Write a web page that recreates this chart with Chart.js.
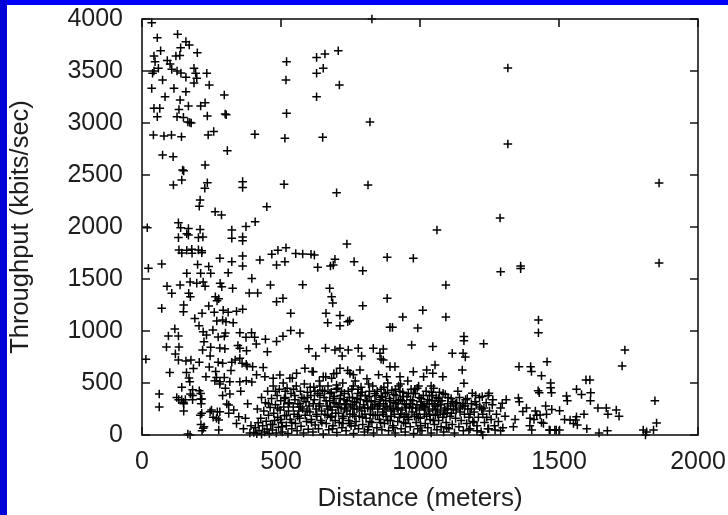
<!DOCTYPE html>
<html>
<head>
<meta charset="utf-8">
<script src="https://cdn.jsdelivr.net/npm/chart.js@4/dist/chart.umd.min.js"></script>
<style>
  html, body { margin: 0; padding: 0; background: #ffffff; }
  #wrap { position: relative; width: 728px; height: 515px; overflow: hidden; background: #ffffff; }
  #c { position: absolute; left: 0; top: 0; }
  #bandTop { position: absolute; left: 0; top: 0; width: 728px; height: 5px; background: #0000ff; }
  #bandLeft { position: absolute; left: 0; top: 0; width: 7px; height: 515px; background: #0000d8; }
</style>
</head>
<body>
<div id="wrap">
  <canvas id="c" width="728" height="515"></canvas>
  <div id="bandTop"></div>
  <div id="bandLeft"></div>
</div>
<script>
// ---- Axis setup ----
const xTicks = [0, 500, 1000, 1500, 2000];
const yTicks = [0, 500, 1000, 1500, 2000, 2500, 3000, 3500, 4000];
const xTitle = "Distance (meters)";
const yTitle = "Throughput (kbits/sec)";

// ---- Data: [distance (m), throughput (kbits/sec)] ----
const nearHigh = [
  [35,3965],[55,3820],[128,3853],[158,3782],[170,3750],[67,3695],[139,3724],[199,3676],[43,3644],[122,3644],
  [136,3650],[47,3590],[91,3600],[101,3567],[59,3526],[38,3478],[43,3500],[107,3516],[126,3500],[140,3480],
  [158,3440],[187,3526],[193,3478],[197,3430],[187,3385],[233,3478],[242,3365],[74,3413],[35,3333],[115,3333],
  [158,3300],[83,3253],[137,3221],[167,3163],[211,3163],[227,3195],[296,3269],[43,3141],[64,3141],[55,3060],
  [133,3130],[126,3060],[149,3054],[165,3010],[177,3000],[172,3005],[235,3067],[299,3086],[303,3080],
  [41,2885],[79,2875],[106,2885],[142,2868],[238,2885],[258,2918],[74,2692],[112,2676],[307,2734],
  [146,2548],[150,2540],[143,2452],[227,2596],[113,2404],[235,2426],[226,2372],[362,2436],[362,2381],
  [209,2260],[206,2200],[263,2147],[286,2115],[19,1993],[131,2041],[139,1993],[167,1986],[209,1977],
  [167,1922],[323,1971],[374,2004],[131,1898],[161,1935],[203,1898],[219,1905],[323,1892],[362,1905],
  [362,1868],[133,1780],[161,1776],[179,1786],[203,1780],[215,1772],[143,1750],[180,1748],[215,1752],
  [362,1721],[23,1603],[71,1644],[323,1667],[362,1625],[161,1555],[211,1555],[247,1555],[395,1506],
  [240,1620],[280,1700],[310,1560],[200,1640]
];

const nearLow = [
  [173,1470],[197,1460],[220,1470],[227,1430],[137,1442],[107,1362],[168,1362],[174,1330],[281,1458],
  [287,1426],[264,1330],[276,1310],[270,1290],[326,1410],[386,1365],[71,1218],[149,1186],[216,1170],
  [292,1200],[310,1180],[340,1190],[362,1210],[269,1096],[290,1105],[302,1090],[328,1080],[95,952],
  [131,952],[88,846],[133,846],[220,993],[232,961],[223,897],[218,817],[247,843],[274,942],[296,950],
  [280,836],[298,830],[352,984],[374,939],[394,984],[352,833],[376,811],[14,728],[131,720],[158,712],
  [176,720],[206,700],[242,654],[274,700],[290,690],[323,700],[335,720],[360,690],[375,680],[352,737],
  [378,663],[398,657],[62,394],[62,270],[143,458],[132,340],[143,340],[156,340],[150,300],[150,230],
  [182,435],[182,380],[182,340],[211,400],[211,345],[213,300],[210,190],[212,100],[216,40],[173,0],
  [245,224],[256,170],[271,224],[276,144],[312,208],[312,288],[348,176],[372,160],[276,48],[223,80],
  [172,512],[280,512],[316,512],[352,512],[169,548],[174,394],[206,426],[215,346],[149,314],[125,360],
  [215,208],[250,240],[280,224],[268,160],[220,64],[262,522],[280,490],[268,554],[296,554],[375,522],
  [395,510],[316,394],[290,380],[305,299],[165,10],[340,110],[365,60],[388,20],[392,90],[380,300],
  [330,240],[355,420],[118,1020],[255,1010],[190,1120],[240,1240],[300,980],[160,600],[245,760],[320,620],
  [100,600],[185,640],[230,560],[300,450],[265,610],[205,1050],[150,1250],[260,1180],[120,780],[345,860],
  [90,1430]
];

const midHigh = [
  [520,3093],[518,3413],[520,3590],[628,3631],[658,3663],[652,3526],[628,3478],[628,3253],[706,3695],
  [710,3365],[827,4000],[406,2891],[514,2853],[650,2862],[511,2410],[700,2330],[820,3010],[813,2404],
  [1316,3529],[1316,2798],[737,1836],[1061,1971],[1288,2086],[449,2195],[407,2050],[489,1776],[467,1738],
  [518,1800],[553,1744],[608,1738],[424,1683],[484,1635],[514,1667],[578,1740],[620,1730],[632,1612],
  [678,1625],[694,1690],[688,1635],[763,1667],[794,1580],[882,1709],[976,1699],[1290,1570],[1093,1442],
  [882,1314],[1093,1135],[578,1445],[675,1410],[686,1269],[682,1330],[462,1442],[484,1282],[507,1314],
  [416,1365],[535,1170],[662,1170],[668,1080],[712,1150],[712,1050],[747,1100],[740,1090],[794,1243],
  [892,1035],[901,1035],[938,1135],[992,1029],[1010,1199]
];

const midScatter = [
  [405,939],[411,875],[444,920],[451,800],[484,900],[507,950],[535,1005],[568,980],[600,830],[625,760],
  [660,835],[694,817],[712,833],[742,817],[778,833],[832,833],[856,785],[868,721],[868,826],[910,657],
  [970,865],[1046,850],[1054,673],[712,641],[748,593],[784,625],[892,657],[928,561],[976,609],[1024,625],
  [1046,593],[1082,561],[1152,625],[1158,497],[1188,401],[1224,369],[1248,401],[1296,305],[1116,785],
  [1155,785],[1163,750],[1158,948],[1158,907],[1229,878],[412,580],[436,650],[720,760],[790,760],
  [860,730],[442,561],[472,545],[496,577],[532,545],[556,593],[586,641],[616,609],[652,561],[682,545],[700,593]
];

const midCluster = [
  [402,25],[408,70],[413,12],[418,118],[421,44],[427,160],[430,8],[434,88],[438,230],[441,30],[444,310],
  [447,132],[450,58],[452,420],[455,190],[458,15],[461,265],[463,100],[466,350],[469,48],[472,470],[474,210],
  [477,140],[480,290],[483,20],[486,380],[488,170],[491,75],[494,440],[497,240],[499,330],[502,120],[505,30],
  [508,500],[510,270],[513,185],[516,360],[519,90],[522,450],[525,15],[527,230],[530,310],[533,150],[536,400],
  [539,60],[541,545],[544,270],[547,200],[550,340],[552,110],[555,470],[558,40],[561,300],[564,230],[567,160],
  [570,420],[572,85],[575,360],[578,250],[581,20],[584,490],[587,190],[590,320],[592,130],[595,410],[598,55],
  [601,280],[604,220],[607,380],[609,150],[612,610],[615,30],[618,460],[620,340],[623,95],[626,250],[629,180],
  [632,400],[635,60],[638,520],[640,300],[643,140],[646,230],[649,430],[652,10],[655,360],[658,200],[661,560],
  [663,110],[666,280],[669,470],[672,50],[675,330],[678,170],[681,410],[684,240],[687,90],[690,590],[692,370],
  [695,140],[698,300],[701,25],[704,450],[707,210],[710,120],[713,350],[716,260],[719,70],[722,500],[725,180],
  [728,400],[731,300],[734,40],[737,230],[740,620],[743,140],[746,360],[749,270],[752,90],[755,440],[758,200],
  [761,15],[764,320],[767,520],[770,130],[773,250],[776,400],[779,60],[782,180],[785,340],[788,460],[791,230],
  [794,100],[797,290],[800,30],[803,380],[806,160],[809,540],[812,260],[815,80],[818,420],[821,200],[824,330],
  [827,120],[830,470],[833,20],[836,290],[839,190],[842,380],[845,70],[848,250],[851,580],[854,150],[857,340],
  [860,440],[863,50],[866,220],[869,300],[872,110],[875,400],[878,180],[881,270],[884,500],[887,40],[890,350],
  [893,140],[896,230],[899,430],[902,90],[905,310],[908,200],[911,20],[914,380],[917,260],[920,130],[923,470],
  [926,170],[929,340],[932,60],[935,240],[938,410],[941,120],[944,300],[947,30],[950,200],[953,370],[956,520],
  [959,150],[962,270],[965,80],[968,440],[971,220],[974,330],[977,15],[980,180],[983,400],[986,120],[989,290],
  [992,60],[995,470],[998,240],[1001,160],[1004,350],[1007,40],[1010,280],[1013,560],[1016,200],[1019,110],
  [1022,420],[1025,300],[1028,70],[1031,230],[1034,380],[1037,150],[1040,20],[1043,330],[1046,250],[1049,450],
  [1052,100],[1055,190],[1058,360],[1061,50],[1064,280],[1067,140],[1070,410],[1073,220],[1076,80],[1079,330],
  [1082,170],[1085,30],[1088,260],[1091,390],[1094,120],[1097,210],[1100,300],[1104,60],[1108,180],[1112,350],
  [1116,100],[1120,250],[1124,20],[1128,160],[1132,310],[1136,420],[1140,80],[1144,220],[1148,140],[1152,280],
  [1156,40],[1160,200],[1164,340],[1168,110],[1172,250],[1176,170],[1180,60],[1185,300],[1190,130],[1195,220],
  [1200,380],[1205,90],[1210,170],[1215,270],[1220,30],[1226,200],[1232,120],[1238,310],[1244,60],[1250,230],
  [1256,150],[1262,340],[1268,90],[1275,200],[1282,130],[1290,260],[1298,70],[1306,180]
];

const clusterCore = [
  [662,330],[668,250],[676,400],[683,180],[691,310],[699,440],[705,270],[714,380],[721,160],[727,340],
  [735,290],[742,420],[748,200],[757,360],[763,250],[771,310],[778,440],[787,380],[793,170],[801,260],
  [808,330],[817,370],[823,250],[831,190],[838,320],[846,420],[853,280],[861,360],[868,200],[877,330],
  [883,410],[892,280],[897,180],[906,390],[913,300],[921,250],[928,420],[936,330],[943,180],[951,290],
  [958,400],[966,340],[973,260],[981,440],[988,200],[997,360],[1003,290],[1012,380],[1018,250],[1027,340],
  [1035,200],[1042,410],[1051,300],[1057,240],[1066,350],[1074,290],[1083,400],[1090,240],[1101,360],
  [1110,280],[1118,320],[1130,240],[1142,360],[1155,300],[1170,350],[1185,250],[1198,320],[1214,360],
  [1230,260],[1245,380],[1260,290],[480,420],[512,350],[545,440],[568,300],[596,360],[622,420],[640,380],
  [455,300],[430,360],[415,250],[520,190],[610,120],[470,100],[505,80],
  [685,60],[723,110],[766,90],[812,50],[858,120],[905,70],[948,110],[1002,90],[1048,140],[1096,70],
  [700,480],[760,470],[815,490],[870,460],[930,490],[990,450],[1040,470],[880,560],[760,580],[640,470]
];

const clusterFill = [
  [488,260],[498,150],[515,420],[526,300],[538,120],[549,380],[560,180],[571,270],[583,350],[594,230],
  [605,460],[616,300],[627,200],[637,280],[647,120],[657,420],[667,190],[677,270],[688,350],[697,210],
  [709,300],[718,420],[729,250],[738,330],[747,110],[756,290],[765,180],[774,350],[783,270],[792,410],
  [802,200],[811,320],[820,130],[829,270],[837,400],[847,190],[856,300],[865,370],[874,250],[884,140],
  [894,330],[903,250],[912,440],[922,330],[931,200],[940,370],[949,260],[957,170],[967,300],[976,400],
  [985,260],[994,170],[1005,320],[1015,270],[1024,180],[1033,300],[1045,380],[1054,280],[1063,200],
  [1072,330],[1086,200],[1099,250],[1113,210],[1127,300],[1145,260],[1162,280],[1180,200],[1203,290],
  [1222,250],[1240,170]
];

const farSites = [
  [1356,657],[1398,657],[1401,610],[1437,570],[1457,705],[1425,425],[1470,500],[1470,455],[1527,375],
  [1563,440],[1354,355],[1370,225],[1310,340],[1336,80],[1290,40],[1205,40],[1247,60],[1429,407],
  [1473,407],[1530,330],[1581,390],[1611,530],[1614,407],[1613,330],[1357,320],[1845,330],[1851,115],
  [1840,48],[1803,48],[1815,30],[1811,0],[1640,260],[1670,260],[1676,200],[1706,240],[1716,180],[1644,20],
  [1674,40],[1485,48],[1490,48],[1465,48],[1520,150],[1552,110],[1560,145],[1395,90],[1410,150],[1420,190],
  [1437,120],[1270,48],[1226,0],[1176,48],[1194,120],[1737,817],[1727,663],[1860,2423],[1860,1654],
  [1597,530],[1396,160],[1402,48],[1432,192],[1444,112],[1474,246],[1502,234],[1468,48],[1502,48],
  [1540,144],[1563,176],[1566,96],[1362,1625],[1362,1600],[1426,1106],[1426,983],[1383,260],[1452,280],
  [1415,230],[1455,200],[1342,150],[1600,60],[1590,200]
];

const allPoints = [].concat(nearHigh, nearLow, midHigh, midScatter, midCluster, clusterCore, clusterFill, farSites)
  .map(p => ({ x: p[0], y: p[1] }));

const FONT = "'Liberation Sans', Arial, Helvetica, sans-serif";

const frameTicks = {
  id: 'frameTicks',
  afterDraw(chart) {
    const { ctx, chartArea: { left, right, top, bottom }, scales: { x, y } } = chart;
    ctx.save();
    ctx.strokeStyle = '#141414';
    ctx.lineWidth = 1.6;
    ctx.beginPath();
    const L = 8;
    x.ticks.forEach(t => {
      const p = x.getPixelForValue(t.value);
      ctx.moveTo(p, bottom); ctx.lineTo(p, bottom - L);
      ctx.moveTo(p, top); ctx.lineTo(p, top + L);
    });
    y.ticks.forEach(t => {
      const p = y.getPixelForValue(t.value);
      ctx.moveTo(left, p); ctx.lineTo(left + L, p);
      ctx.moveTo(right, p); ctx.lineTo(right - L, p);
    });
    ctx.stroke();
    ctx.strokeRect(left, top, right - left, bottom - top);
    ctx.restore();
  }
};

function noPad(s) { s.paddingTop = 0; s.paddingBottom = 0; s.paddingLeft = 0; s.paddingRight = 0; }

new Chart(document.getElementById('c'), {
  type: 'scatter',
  data: {
    datasets: [{
      data: allPoints,
      pointStyle: 'cross',
      pointRadius: 4.3,
      pointHoverRadius: 4.3,
      borderColor: '#000000',
      backgroundColor: '#000000',
      pointBorderWidth: 1.5,
      clip: false
    }]
  },
  options: {
    responsive: false,
    animation: false,
    events: [],
    layout: { padding: { top: 19, right: 30, left: 0, bottom: 0 } },
    plugins: { legend: { display: false }, tooltip: { enabled: false } },
    scales: {
      x: {
        type: 'linear', min: 0, max: 2000,
        afterBuildTicks: s => { s.ticks = xTicks.map(v => ({ value: v })); },
        afterFit: s => { s.height = 80; noPad(s); },
        grid: { display: false, drawTicks: false },
        border: { display: false },
        ticks: { padding: 12, color: '#1e1e1e', font: { family: FONT, size: 25 }, maxRotation: 0,
                 callback: v => String(v) },
        title: { display: true, text: xTitle, color: '#1e1e1e', font: { family: FONT, size: 26 }, padding: { top: 0, bottom: 1 } }
      },
      y: {
        type: 'linear', min: 0, max: 4000,
        afterBuildTicks: s => { s.ticks = yTicks.map(v => ({ value: v })); },
        afterFit: s => { s.width = 142; noPad(s); },
        grid: { display: false, drawTicks: false },
        border: { display: false },
        ticks: { padding: 19, color: '#1e1e1e', font: { family: FONT, size: 25 },
                 callback: v => String(v) },
        title: { display: true, text: yTitle, color: '#1e1e1e', font: { family: FONT, size: 25.5 }, padding: { top: 6, bottom: 0 } }
      }
    }
  },
  plugins: [frameTicks]
});
</script>
</body>
</html>
